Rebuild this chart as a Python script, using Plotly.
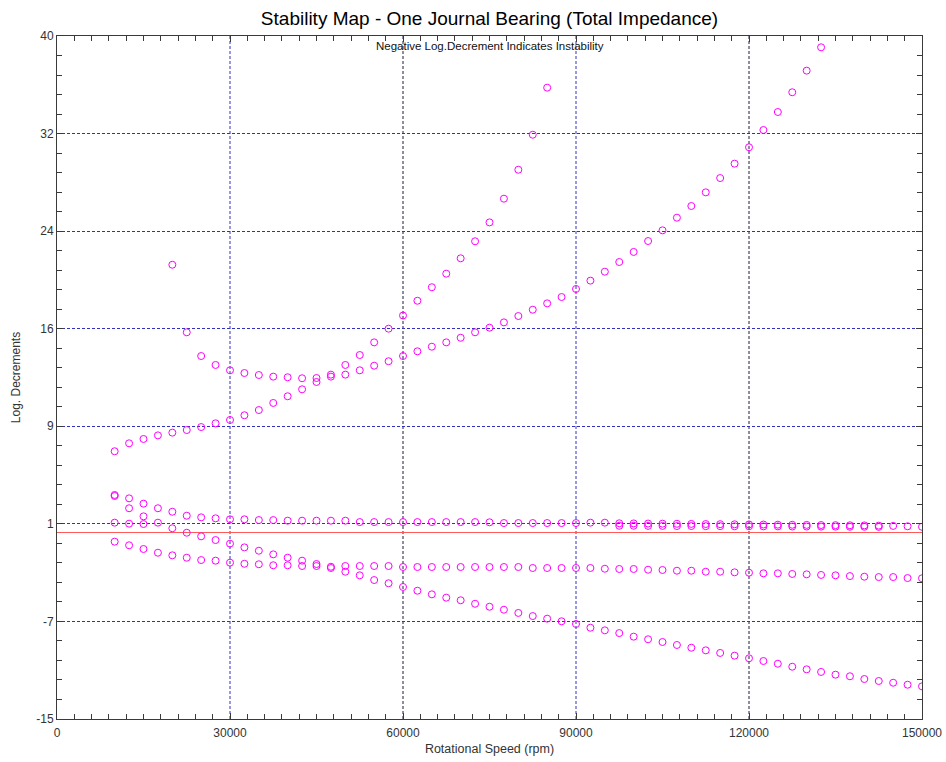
import plotly.graph_objects as go

# ---------------- data ----------------
speed_rpm = [10000, 12500, 15000, 17500, 20000, 22500, 25000, 27500, 30000, 32500,
             35000, 37500, 40000, 42500, 45000, 47500, 50000, 52500, 55000, 57500,
             60000, 62500, 65000, 67500, 70000, 72500, 75000, 77500, 80000, 82500,
             85000, 87500, 90000, 92500, 95000, 97500, 100000, 102500, 105000, 107500,
             110000, 112500, 115000, 117500, 120000, 122500, 125000, 127500, 130000, 132500,
             135000, 137500, 140000, 142500, 145000, 147500, 150000]

N = None
mode_a = [6.56, 7.20, 7.55, 7.84, 8.06, 8.27, 8.51, 8.81, 9.08, 9.46,
          9.88, 10.45, 10.99, 11.55, 12.14, 12.57, 12.73, 13.08, 13.45, 13.81,
          14.23, 14.61, 14.98, 15.33, 15.70, 16.14, 16.51, 16.94, 17.45, 17.96,
          18.47, 18.98, 19.63, 20.30, 21.02, 21.80, 22.61, 23.49, 24.35, 25.37,
          26.31, 27.41, 28.56, 29.72, 31.04, 32.43, 33.88, 35.47, 37.21, 39.09,
          N, N, N, N, N, N, N]

mode_b = [0.81, 0.73, 0.70, N, 21.58, 16.14, 14.23, 13.51, 13.08, 12.86,
          12.70, 12.57, 12.52, 12.44, 12.46, 12.73, 13.51, 14.31, 15.33, 16.43,
          17.49, 18.68, 19.77, 20.86, 22.10, 23.47, 24.99, 26.90, 29.23, 32.05,
          35.84, N, N, N, N, N, N, N, N, N,
          N, N, N, N, N, N, N, N, N, N,
          N, N, N, N, N, N, N]

mode_c = [3.04, 2.77, 2.34, 1.97, 1.69, 1.37, 1.24, 1.16, 1.08, 1.08,
          1.02, 1.02, 0.97, 0.97, 0.97, 0.97, 0.97, 0.86, 0.86, 0.86,
          0.86, 0.86, 0.86, 0.86, 0.86, 0.86, 0.84, 0.78, 0.78, 0.78,
          0.78, 0.78, 0.78, 0.81, 0.81, 0.76, 0.75, 0.74, 0.73, 0.72,
          0.71, 0.70, 0.69, 0.68, 0.67, 0.66, 0.65, 0.64, 0.63, 0.62,
          0.61, 0.60, 0.59, 0.57, 0.55, 0.52, 0.48]

mode_d = [-0.72, -1.01, -1.31, -1.61, -1.82, -2.01, -2.20, -2.25, -2.41, -2.50,
          -2.54, -2.62, -2.62, -2.68, -2.68, -2.84, -2.68, -2.68, -2.68, -2.68,
          -2.76, -2.76, -2.76, -2.76, -2.76, -2.76, -2.76, -2.76, -2.76, -2.84,
          -2.84, -2.84, -2.84, -2.84, -2.90, -2.92, -2.92, -2.98, -3.00, -3.06,
          -3.06, -3.14, -3.14, -3.19, -3.22, -3.27, -3.27, -3.32, -3.35, -3.40,
          -3.43, -3.49, -3.54, -3.57, -3.57, -3.65, -3.67]

mode_e = [N, N, N, N, N, N, N, N, N, N,
          N, N, N, N, N, N, N, N, N, N,
          N, N, N, N, N, N, N, N, N, N,
          N, N, N, N, N, 0.56, 0.56, 0.55, 0.55, 0.54,
          0.54, 0.53, 0.53, 0.52, 0.52, 0.51, 0.51, 0.50, 0.50, 0.49,
          0.49, 0.48, 0.48, 0.47, N, N, N]

mode_f = [2.96, 1.97, 1.32, 0.81, 0.36, 0.00, -0.29, -0.59, -0.88, -1.18,
          -1.45, -1.74, -2.01, -2.25, -2.52, -2.74, -3.14, -3.43, -3.81, -4.07,
          -4.37, -4.67, -4.96, -5.23, -5.44, -5.72, -5.96, -6.20, -6.46, -6.71,
          -6.92, -7.13, -7.35, -7.65, -7.86, -8.08, -8.37, -8.58, -8.80, -9.04,
          -9.26, -9.47, -9.68, -9.90, -10.11, -10.33, -10.55, -10.79, -11.00, -11.21,
          -11.43, -11.56, -11.78, -11.94, -12.08, -12.24, -12.37]

y_min, y_max = -15, 40
y_tick_labels = ["-15", "-7", "1", "9", "16", "24", "32", "40"]
y_tick_vals = [y_min + i * (y_max - y_min) / 7 for i in range(8)]
x_grid_blue = [30000, 90000]
x_grid_dark = [60000, 120000]

# ---------------- figure ----------------
FONT = "Liberation Sans, Arial, sans-serif"
AXC = "#3a3a3a"
GRID = "#3030c0"
DASH = "3px,2px"

fig = go.Figure()
for ys in [mode_a, mode_b, mode_c, mode_d, mode_e, mode_f]:
    fig.add_trace(go.Scatter(
        x=speed_rpm, y=ys, mode="markers", showlegend=False,
        marker=dict(symbol="circle-open", size=7, color="#ff00ff",
                    line=dict(width=1, color="#ff00ff")),
    ))

for xs, col in [(x_grid_blue, GRID), (x_grid_dark, "#1c1c3c")]:
    for xv in xs:
        fig.add_shape(type="line", xref="x", yref="paper", x0=xv, x1=xv, y0=1, y1=0,
                      layer="between", line=dict(color=col, width=1, dash=DASH))

fig.update_layout(
    width=946, height=762,
    margin=dict(l=57, r=24, t=36, b=43, autoexpand=False),
    paper_bgcolor="white", plot_bgcolor="white",
    font=dict(family=FONT, size=12, color="#222"),
    title=dict(text="Stability Map - One Journal Bearing (Total Impedance)",
               x=0.5, xref="paper", xanchor="center",
               y=1 - 18 / 762, yref="container", yanchor="middle",
               font=dict(family=FONT, size=19, color="#000")),
    annotations=[dict(text="Negative Log.Decrement Indicates Instability",
                      x=0.5, xref="paper", y=1, yref="paper",
                      xanchor="center", yanchor="top", yshift=-2,
                      showarrow=False, font=dict(family=FONT, size=11.5, color="#111"))],
)

fig.update_xaxes(
    range=[0, 150000], tick0=0, dtick=30000, tickformat="d", automargin=False,
    ticks="inside", ticklen=6, tickcolor=AXC, tickwidth=1, ticklabelstandoff=3,
    showline=True, linecolor=AXC, linewidth=1, mirror="ticks",
    showgrid=False, zeroline=False,
    minor=dict(ticks="inside", tick0=0, dtick=3000, ticklen=5, tickcolor=AXC, showgrid=False),
    tickfont=dict(family=FONT, size=12, color="#333"),
    title=dict(text="Rotational Speed (rpm)", font=dict(family=FONT, size=12.5, color="#333"),
               standoff=4),
)

fig.update_yaxes(
    range=[y_min, y_max], tickmode="array", tickvals=y_tick_vals, ticktext=y_tick_labels,
    automargin=False,
    ticks="inside", ticklen=6, tickcolor=AXC, tickwidth=1,
    showline=True, linecolor=AXC, linewidth=1, mirror="ticks",
    showgrid=True, gridcolor=GRID, griddash=DASH, gridwidth=1,
    zeroline=True, zerolinecolor="#ff5a5a", zerolinewidth=1.3,
    minor=dict(ticks="inside", tick0=y_min, dtick=(y_max - y_min) / 35, ticklen=5,
               tickcolor=AXC, showgrid=False),
    tickfont=dict(family=FONT, size=12, color="#333"),
    title=dict(text="Log. Decrements", font=dict(family=FONT, size=12, color="#333"),
               standoff=13),
)

fig.write_html("out.html")
